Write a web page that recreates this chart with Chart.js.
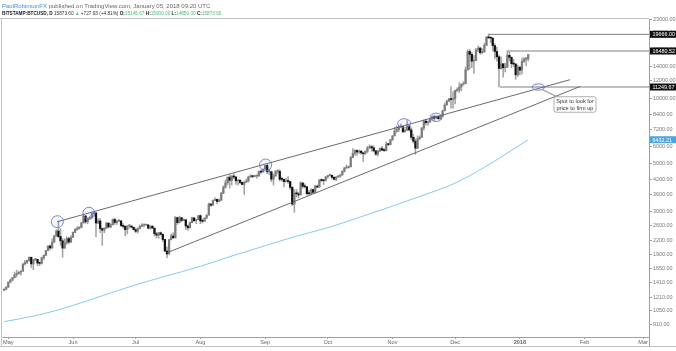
<!DOCTYPE html>
<html><head><meta charset="utf-8">
<script src="https://cdn.jsdelivr.net/npm/chart.js@4.4.0/dist/chart.umd.min.js"></script>
<style>
html,body{margin:0;padding:0;background:#fff;}
#wrap{position:relative;width:676px;height:351px;overflow:hidden;}
#hdr{position:absolute;left:2px;top:1.5px;font:6px/8px "Liberation Sans",Arial,sans-serif;color:#666;white-space:nowrap;z-index:2;}
#hdr .l2{font-size:4.7px;}
#hdr b{color:#222;font-weight:bold;}
#hdr .u{color:#3f8fdc;}
#hdr .g{color:#4fb57f;}
#hdr .d{color:#333;}
canvas{position:absolute;left:0;top:0;}
</style></head><body>
<div id="wrap">
<canvas id="c" width="676" height="351"></canvas>
<div id="hdr">
<div><span class="u">PaulRobinsonFX</span> published on TradingView.com, January 05, 2018 09:20 UTC</div>
<div class="l2"><b>BITSTAMP:BTCUSD, D</b> <span class="d">15873.60</span> <span class="g">▲</span> <span class="d">+727.93 (+4.81%)</span> <b>O:</b><span class="g">15145.67</span> <b>H:</b><span class="g">15900.00</span> <b>L:</b><span class="g">14850.00</span> <b>C:</b><span class="g">15873.60</span></div>
</div>
</div>
<script>
// Day index: 0 = 1 May 2017. First candle = 29 Apr 2017 (day -2), one candle per day.
const startDay = -2;
const firstOpen = 1305;

const closes = [
  1317,1348,
  1421,1452,1490,1537,1555,1578,1596,1723,1755,1787,1848,1724,1804,1808,1739,1734,1839,1888,1987,2084,2041,2173,2321,2443,2305,2202,2038,2155,2255,2175,2286,
  2407,2489,2516,2539,2662,2864,2693,2794,2823,2947,2958,2660,2717,2507,2465,2519,2655,2549,2611,2760,2674,2715,2720,2589,2565,2481,2576,2576,2540,2480,
  2435,2506,2564,2601,2601,2608,2518,2572,2518,2372,2337,2398,2357,2234,1975,1915,2228,2318,2273,2818,2668,2811,2731,2754,2576,2529,2671,2810,2726,2758,2876,
  2718,2710,2805,2895,3253,3213,3378,3419,3342,3381,3650,3884,4073,4326,4182,4376,4331,4160,4193,4088,4001,4100,4151,4334,4371,4352,4382,4382,4579,4565,4703,
  4892,4578,4582,4236,4376,4597,4599,4229,4226,4122,4161,4130,3882,3250,3637,3625,3582,4065,3924,3905,3631,3630,3792,3682,3926,3892,4200,4174,4163,4338,
  4403,4409,4317,4229,4328,4370,4426,4610,4772,4781,4826,5325,5563,5739,5647,5700,5600,5540,5690,5900,5980,5900,5720,5520,5700,5860,5760,5730,6130,6110,6440,
  6700,7040,7160,7370,7400,6990,7120,7440,7140,6600,6330,5880,6500,6600,7280,7830,7700,7780,8030,8200,8080,8230,8030,8240,8750,9300,9700,9900,9850,9930,
  10850,10900,11250,11600,11650,13500,16400,15900,14800,14900,16700,17000,16200,16300,17500,19100,18950,18900,17450,16400,15500,13700,14400,13800,13900,15750,15400,14400,14350,12800,13900,
  13450,14750,15100,15145.67,15873.60
];
const highs = [
  1325,1350,
  1425,1470,1495,1580,1610,1590,1605,1730,1790,1795,1860,1855,1810,1830,1810,1760,1850,1900,1990,2090,2110,2250,2330,2480,2720,2500,2250,2250,2300,2290,2330,
  2420,2500,2560,2560,2690,2900,2880,2810,2850,2960,2990,2980,2780,2790,2520,2530,2680,2670,2640,2780,2800,2740,2760,2730,2640,2590,2590,2620,2590,2550,
  2520,2530,2600,2640,2630,2620,2610,2580,2590,2530,2410,2410,2420,2370,2240,2060,2240,2370,2400,2850,2830,2860,2830,2780,2760,2610,2690,2830,2810,2770,2880,
  2900,2760,2810,2900,3290,3270,3400,3480,3430,3440,3680,3950,4200,4330,4430,4400,4480,4370,4200,4200,4100,4150,4250,4370,4450,4380,4400,4400,4620,4640,4730,
  4900,4980,4700,4590,4480,4650,4680,4680,4330,4240,4270,4350,4130,3920,3790,3800,3700,4120,4090,4030,3920,3760,3820,3810,3970,3980,4220,4250,4200,4360,
  4410,4470,4430,4350,4360,4410,4460,4630,4800,4920,4870,5400,5850,5800,5780,5780,5740,5600,5720,6000,6100,6050,6030,5740,5760,5900,6000,5850,6300,6180,6460,
  6720,7350,7440,7450,7590,7420,7200,7880,7450,7300,6800,6480,6700,6700,7330,7950,8000,7850,8100,8280,8350,8300,8290,8300,8790,9480,9750,9970,11300,10690,
  10900,11150,11800,11600,11900,13900,16700,16800,16200,15700,16900,17400,17200,16900,17900,19200,19666,19100,19000,17800,17200,15800,15500,14400,14500,16480.52,16300,15500,15100,14450,14200,
  13950,15300,15400,15400,15900
];
const lows = [
  1295,1310,
  1340,1410,1440,1480,1500,1545,1530,1590,1700,1730,1770,1660,1620,1785,1690,1690,1720,1810,1880,1980,2000,2030,2160,2300,2280,2100,1850,2030,2120,2130,2160,
  2280,2400,2460,2490,2530,2660,2650,2640,2760,2820,2880,2300,2640,2400,2100,2400,2500,2530,2530,2600,2620,2620,2700,2560,2520,2320,2370,2520,2530,2470,
  2400,2390,2500,2560,2550,2590,2500,2490,2510,2320,2270,2260,2340,2180,1970,1840,1910,2220,2260,2270,2620,2660,2700,2720,2480,2460,2520,2660,2700,2640,2750,
  2640,2660,2700,2780,2890,3170,3200,3360,3260,3330,3380,3630,3850,3990,3850,3980,4260,4000,3970,4040,3990,3600,4080,4110,4320,4300,4340,4270,4360,4480,4560,
  4690,4470,4440,4120,3970,4370,4500,4150,4160,3900,4100,4050,3800,3200,2980,3500,3470,3580,3850,3860,3570,3560,3600,3640,3680,3870,3890,4130,4000,4160,
  4280,4380,4260,4200,4170,4320,4320,4420,4560,4740,4760,4820,5320,5450,5450,5570,5500,5100,5510,5610,5860,5690,5650,5450,5410,5680,5730,5680,5700,6040,6090,
  6360,6700,6950,7000,7300,6950,6980,7080,7050,6450,6200,5500,5850,6420,6580,7120,7520,7480,7700,7960,7860,8070,8000,7980,8200,8730,9290,9600,9000,9000,
  9400,10700,10600,10800,11450,11650,13450,13600,13800,13000,14900,16300,15900,16000,16300,17400,18800,18000,16500,15200,14800,11250,13600,12500,13200,13800,14800,13800,14000,12200,12550,
  12800,12900,14600,14100,14850
];
// each daily candle opens at the previous close
const opens = [firstOpen].concat(closes.slice(0, -1));

// 200-day moving average (light blue), read at points along the curve
const maDays   = [-2, 14, 31, 45, 61, 75, 92, 106, 123, 137, 153, 167, 184, 198, 214, 228, 245, 249];
const maValues = [935, 1000, 1110, 1230, 1380, 1510, 1680, 1860, 2090, 2300, 2530, 2800, 3180, 3550, 4060, 4800, 6080, 6432.21];

// drawn trendlines (day, price)
const upperTrendDays = [23.5, 269.0];
const upperTrendPrices = [2697, 12155];
const lowerTrendDays = [76.0, 273.8];
const lowerTrendPrices = [1940, 11309];

// horizontal levels
const levelPrices = [19666.00, 16480.52, 11249.67];
const levelStartDays = [229.7, 239.0, 235.5];

// circled touch points and the support ellipse
const circleDays = [23.5, 38.6, 123.2, 189.6, 204.9];
const circlePrices = [2697, 2948, 4920, 7655, 8158];
const supportDay = 253.9, supportPrice = 11250;
const calloutDay = 271.4, calloutPrice = 9346;
const calloutLines = ['Spot to look for', 'price to firm up'];

const monthDays = [0, 31, 61, 92, 123, 153, 184, 214, 245, 276, 304];
const monthLabels = ['May','Jun','Jul','Aug','Sep','Oct','Nov','Dec','2018','Feb','Mar'];
const priceTicks = [910,1050,1210,1410,1650,1900,2200,2600,3000,3600,4200,5000,6000,7200,8400,10000,12000,14000,16800,20000,23000];

const X_MIN = -2.54, X_MAX = 306.85, Y_MIN = 794, Y_MAX = 23140;
const FONT = '"Liberation Sans", Arial, sans-serif';

const bodies = closes.map((c, i) => ({x: startDay + i, y: [opens[i], c]}));
const wicks = closes.map((c, i) => ({x: startDay + i, y: [lows[i], highs[i]]}));
const bodyColors = closes.map((c, i) => c >= opens[i] ? '#7d7d7d' : '#111111');

const lineDs = (pts, color, w, order) => ({type:'line', data: pts, borderColor: color, borderWidth: w, pointRadius: 0, fill: false, order});

const datasets = [
  Object.assign(lineDs(maDays.map((d,i)=>({x:d,y:maValues[i]})), '#86c9ea', 1, 6), {cubicInterpolationMode:'monotone'}),
  {type:'bar', data: wicks, backgroundColor:'#a3a3a3', barThickness:0.9, grouped:false, order:5},
  {type:'bar', data: bodies, backgroundColor: bodyColors, barThickness:1.6, minBarLength:1, grouped:false, order:4},
  lineDs(upperTrendDays.map((d,i)=>({x:d,y:upperTrendPrices[i]})), '#5a5a5a', 0.9, 1),
  lineDs(lowerTrendDays.map((d,i)=>({x:d,y:lowerTrendPrices[i]})), '#5a5a5a', 0.9, 1),
];
levelPrices.forEach((p, i) => datasets.push(lineDs([{x: levelStartDays[i], y: p}, {x: X_MAX, y: p}], '#707070', 0.9, 1)));

const annot = {
  id: 'annot',
  afterDatasetsDraw(chart) {
    const {ctx, scales: {x, y}} = chart;
    ctx.save();
    const rx = [6, 6, 6, 6.5, 6], ry = [6, 6, 6, 4.6, 4.2];
    ctx.strokeStyle = '#6b79d3'; ctx.lineWidth = 0.9; ctx.fillStyle = 'rgba(107,121,211,0.07)';
    circleDays.forEach((d, i) => {
      ctx.beginPath();
      ctx.ellipse(x.getPixelForValue(d), y.getPixelForValue(circlePrices[i]), rx[i], ry[i], 0, 0, Math.PI * 2);
      ctx.fill(); ctx.stroke();
    });
    const sx = x.getPixelForValue(supportDay), sy = y.getPixelForValue(supportPrice);
    const cx = x.getPixelForValue(calloutDay), cy = y.getPixelForValue(calloutPrice);
    const bw = 42, bh = 15.5;
    ctx.strokeStyle = '#a8a8a8'; ctx.lineWidth = 1.4;
    ctx.beginPath(); ctx.moveTo(sx + 4, sy + 2.5); ctx.lineTo(cx - bw / 2 + 5, cy - bh / 2 + 1); ctx.stroke();
    ctx.beginPath(); ctx.strokeStyle = '#6b79d3'; ctx.lineWidth = 0.9; ctx.fillStyle = 'rgba(107,121,211,0.07)';
    ctx.ellipse(sx, sy, 6.2, 3.2, 0, 0, Math.PI * 2); ctx.fill(); ctx.stroke();
    ctx.fillStyle = '#fff'; ctx.strokeStyle = '#9a9a9a'; ctx.lineWidth = 0.8;
    ctx.beginPath(); ctx.roundRect(cx - bw / 2, cy - bh / 2, bw, bh, 2); ctx.fill(); ctx.stroke();
    ctx.fillStyle = '#333'; ctx.font = '5.6px ' + FONT; ctx.textAlign = 'center'; ctx.textBaseline = 'middle';
    ctx.fillText(calloutLines[0], cx, cy - 3.2);
    ctx.fillText(calloutLines[1], cx, cy + 3.6);
    ctx.restore();
  },
  afterDraw(chart) {
    const {ctx, chartArea: a, scales: {y}} = chart;
    ctx.save();
    ctx.strokeStyle = '#c4c4c4'; ctx.lineWidth = 1;
    ctx.beginPath(); ctx.moveTo(0, a.top - 0.5); ctx.lineTo(a.right, a.top - 0.5); ctx.stroke();
    ctx.beginPath(); ctx.moveTo(0, 346.5); ctx.lineTo(676, 346.5); ctx.stroke();
    ctx.beginPath(); ctx.moveTo(1.5, a.top); ctx.lineTo(1.5, 346.5); ctx.stroke();
    ctx.strokeStyle = '#a0a0a0';
    ctx.beginPath(); ctx.moveTo(a.right + 0.5, a.bottom); ctx.lineTo(a.right + 0.5, 346.5); ctx.stroke();
    const marks = levelPrices.map(v => ({v, bg: '#111'})).concat([{v: maValues[maValues.length - 1], bg: '#4fa3dc'}]);
    ctx.font = '5.4px ' + FONT; ctx.textAlign = 'left'; ctx.textBaseline = 'middle';
    marks.forEach(m => {
      const py = y.getPixelForValue(m.v);
      ctx.fillStyle = m.bg; ctx.fillRect(a.right + 1, py - 3.5, 26, 7);
      ctx.fillStyle = '#fff'; ctx.fillText(m.v.toFixed(2), a.right + 3.5, py + 0.3);
    });
    ctx.restore();
  }
};

new Chart(document.getElementById('c'), {
  type: 'bar',
  data: {datasets},
  options: {
    responsive: false, animation: false, devicePixelRatio: 1,
    layout: {padding: {top: 19, left: 3, right: 0, bottom: 0}},
    plugins: {legend: {display: false}, tooltip: {enabled: false}},
    scales: {
      x: {
        type: 'linear', min: X_MIN, max: X_MAX, offset: false, position: 'bottom',
        afterFit(s) { s.height = 14; },
        afterBuildTicks(s) { s.ticks = monthDays.map(v => ({value: v})); },
        ticks: {
          autoSkip: false, maxRotation: 0, padding: 0, color: '#666',
          font: (c) => ({family: FONT, size: 5.6, weight: (c.tick && c.tick.value === 245) ? 'bold' : 'normal'}),
          callback: (v) => monthLabels[monthDays.indexOf(v)]
        },
        grid: {drawOnChartArea: false, tickLength: 2, color: '#a0a0a0', offset: false},
        border: {color: '#a0a0a0'}
      },
      y: {
        type: 'logarithmic', position: 'right', min: Y_MIN, max: Y_MAX,
        afterFit(s) { s.width = 27; },
        afterBuildTicks(s) { s.ticks = priceTicks.map(v => ({value: v})); },
        ticks: {autoSkip: false, padding: 1, color: '#777', font: {family: FONT, size: 5.4}, callback: (v) => Number(v).toFixed(2)},
        grid: {drawOnChartArea: false, tickLength: 3, color: '#a0a0a0'},
        border: {color: '#a0a0a0'}
      }
    }
  },
  plugins: [annot]
});
</script>
</body></html>
